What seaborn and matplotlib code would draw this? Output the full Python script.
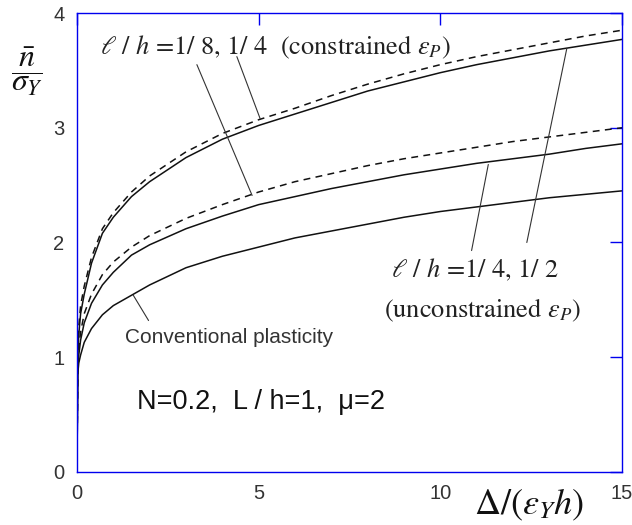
import matplotlib
matplotlib.use('Agg')
import matplotlib.pyplot as plt
import seaborn as sns
import pandas as pd

# displacement samples, Delta/(eps_Y h)
x_vals = [0, 0.02, 0.05, 0.1, 0.2, 0.4, 0.7, 1.0, 1.5, 2, 3, 4, 5, 6, 7, 8, 9, 10, 11, 12, 13, 14, 15]

# conventional plasticity
conventional = [0, 0.85, 0.95, 1.02, 1.13, 1.25, 1.37, 1.45, 1.54, 1.63, 1.78, 1.88, 1.96, 2.04,
                2.10, 2.16, 2.22, 2.27, 2.31, 2.35, 2.39, 2.42, 2.45]
# middle pair
mid_solid = [0, 0.90, 1.02, 1.15, 1.30, 1.47, 1.63, 1.74, 1.89, 1.98, 2.12, 2.23, 2.33, 2.40,
             2.47, 2.53, 2.59, 2.64, 2.69, 2.73, 2.77, 2.82, 2.86]
mid_dashed = [0, 0.95, 1.08, 1.22, 1.38, 1.55, 1.72, 1.83, 1.96, 2.06, 2.21, 2.33, 2.44, 2.53,
              2.60, 2.67, 2.73, 2.78, 2.83, 2.88, 2.92, 2.96, 3.00]
# top pair
top_solid = [0, 1.00, 1.20, 1.38, 1.55, 1.82, 2.08, 2.22, 2.40, 2.53, 2.74, 2.90, 3.02, 3.12,
             3.22, 3.32, 3.40, 3.48, 3.55, 3.61, 3.67, 3.72, 3.77]
top_dashed = [0, 1.05, 1.27, 1.45, 1.62, 1.87, 2.12, 2.26, 2.44, 2.58, 2.79, 2.95, 3.07, 3.17,
              3.28, 3.38, 3.47, 3.55, 3.62, 3.68, 3.74, 3.80, 3.85]

x_ticks = [0, 5, 10, 15]
y_ticks = [0, 1, 2, 3, 4]

# leader lines: (start, end) in data coords
leaders = [((3.30, 3.55), (4.82, 2.41)),
           ((4.40, 3.62), (5.04, 3.08)),
           ((12.38, 2.00), (13.48, 3.69)),
           ((10.86, 1.93), (11.32, 2.68)),
           ((1.97, 1.32), (1.55, 1.54))]

sns.set_theme(style='white')
plt.rcParams['font.family'] = ['Liberation Sans', 'DejaVu Sans']
plt.rcParams['mathtext.fontset'] = 'stix'

BLUE = '#0000ee'
INK = '#111111'

fig = plt.figure(figsize=(6.32, 5.25), dpi=100)
ax = fig.add_axes([0.1218, 0.1010, 0.8624, 0.8742])

for ys, ls in [(conventional, '-'), (mid_solid, '-'), (top_solid, '-'),
               (mid_dashed, '--'), (top_dashed, '--')]:
    df = pd.DataFrame({'x': x_vals, 'y': ys})
    sns.lineplot(data=df, x='x', y='y', ax=ax, color=INK, lw=1.1,
                 sort=False, estimator=None)
    if ls == '--':
        ax.lines[-1].set_dashes((4.5, 3.5))

for (x0, y0), (x1, y1) in leaders:
    ax.plot([x0, x1], [y0, y1], color='#333333', lw=0.8)

ax.set_xlim(0, 15)
ax.set_ylim(0, 4)
ax.set_xticks(x_ticks)
ax.set_yticks(y_ticks)
ax.set_xlabel('')
ax.set_ylabel('')
for s in ax.spines.values():
    s.set_color(BLUE)
    s.set_linewidth(1.0)
ax.tick_params(direction='in', length=8.5, width=1.0, color=BLUE,
               top=True, right=True, labelsize=14.5, labelcolor='#333333')
ax.tick_params(axis='x', pad=9)
ax.tick_params(axis='y', pad=9)

serif = dict(family='STIXGeneral', color='#222222')
ax.text(0.63, 3.70, r'$\ell\ /\ h$ =1/ 8, 1/ 4  (constrained $\varepsilon_P$)',
        fontsize=19, ha='left', va='center', **serif)
ax.text(10.95, 1.76, r'$\ell\ /\ h$ =1/ 4, 1/ 2', fontsize=19,
        ha='center', va='center', **serif)
ax.text(11.16, 1.41, r'(unconstrained $\varepsilon_P$)', fontsize=19,
        ha='center', va='center', **serif)
ax.text(1.32, 1.17, 'Conventional plasticity', fontsize=15, color='#333333',
        ha='left', va='center')
ax.text(5.06, 0.61, 'N=0.2,  L / h=1,  \u03bc=2', fontsize=19.5, color='#111111',
        ha='center', va='center')

fig.text(27 / 632, 1 - 72 / 525, r'$\dfrac{\bar{n}}{\sigma_Y}$', fontsize=23,
         ha='center', va='center', color='#111111')
fig.text(529 / 632, 1 - 505 / 525, r'$\Delta/(\varepsilon_Y h)$', fontsize=26,
         ha='center', va='center', color='#111111')

fig.savefig('out.png', dpi=100)
